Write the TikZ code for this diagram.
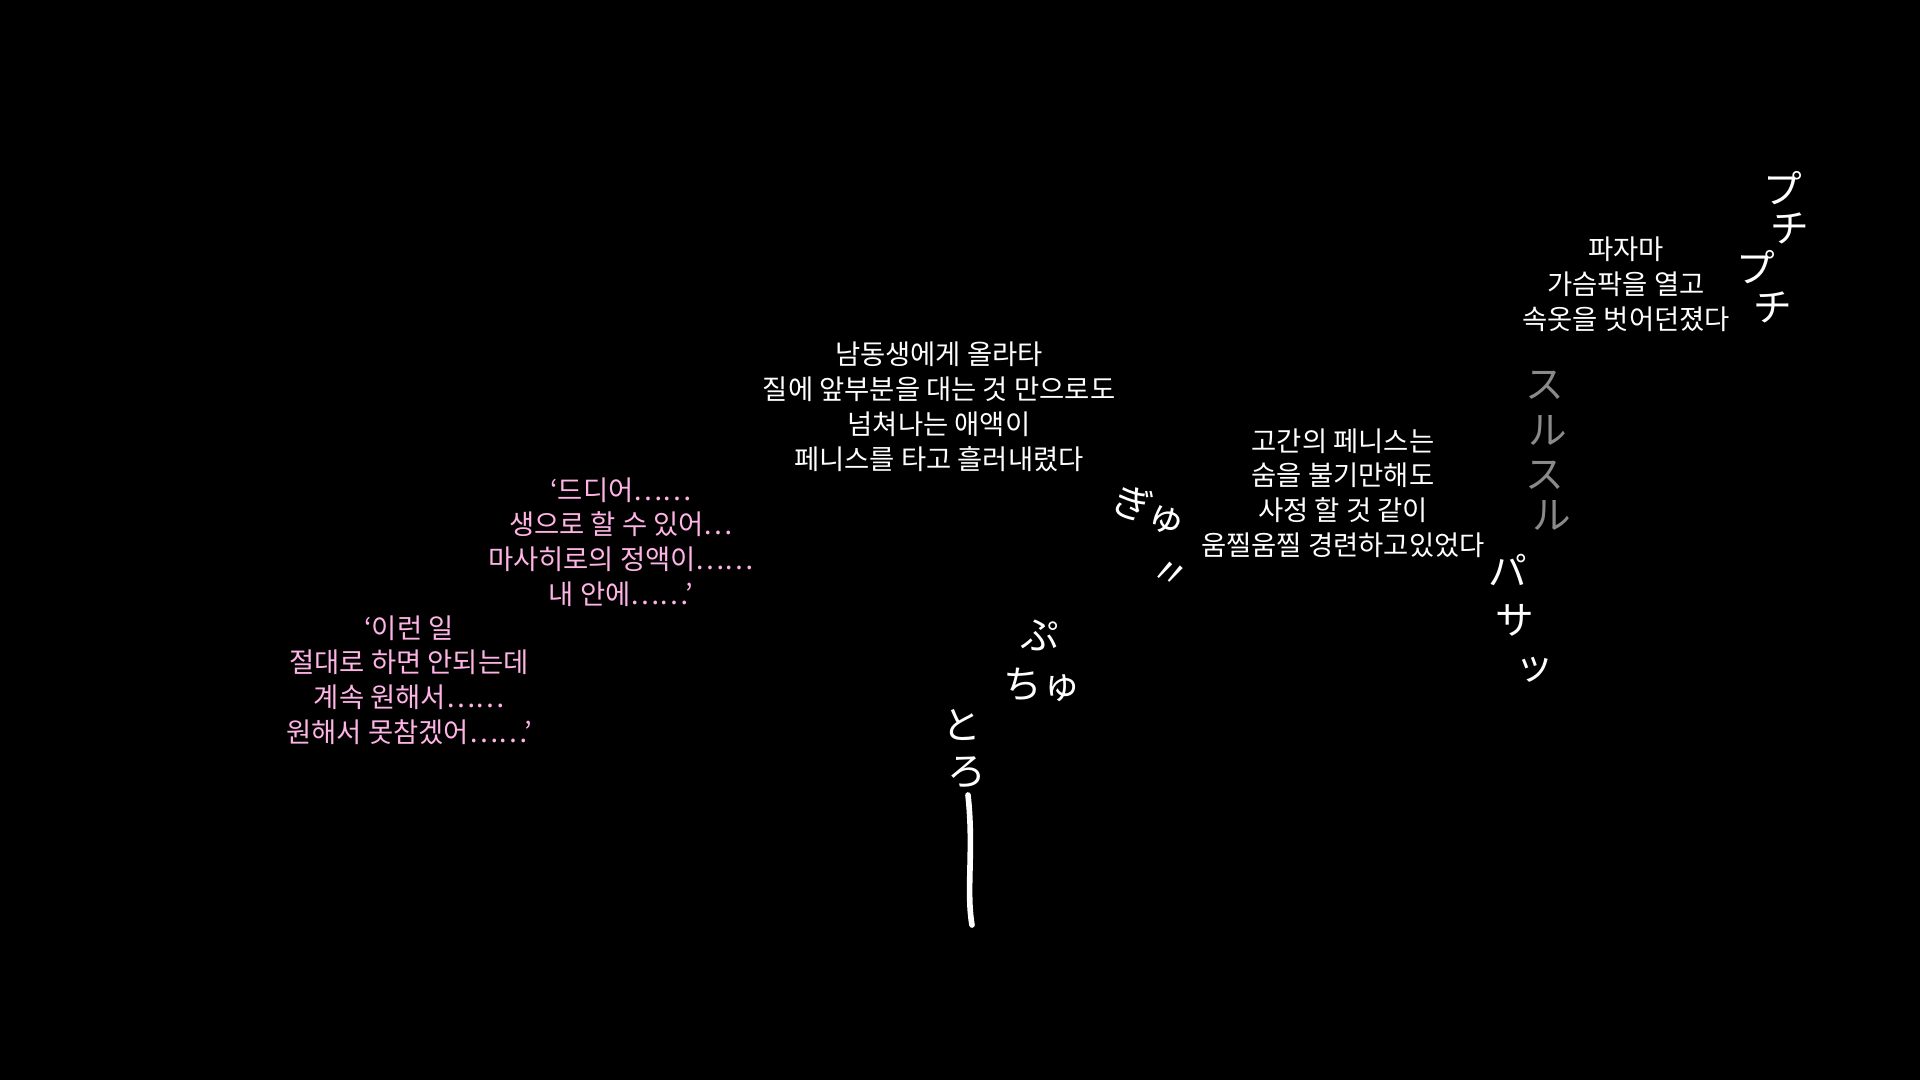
\documentclass[tikz,border=0pt]{standalone}
\usepackage{fontspec}
\newfontfamily\kr{Noto Sans CJK KR}
\newfontfamily\jp{Noto Sans CJK JP}
\definecolor{pinktxt}{HTML}{FFB4E6}
\definecolor{sfxgray}{HTML}{8A8A8A}
\tikzset{
  dlg/.style={align=center,font=\kr\fontsize{7.8}{9.9}\selectfont,inner sep=0pt},
  sfx/.style={font=\jp\fontsize{11}{12}\selectfont,text=white,inner sep=0pt},
}
\begin{document}
\begin{tikzpicture}[x=0.1mm,y=0.1mm]
\fill[black] (0,0) rectangle (1920,1080);
\useasboundingbox (0,0) rectangle (1920,1080);
\node[dlg,text=pinktxt] (b1) at (409,400) {‘이런 일\\절대로 하면 안되는데\\계속 원해서……\\원해서 못참겠어……’};
\node[dlg,text=pinktxt] (b2) at (621,538) {‘드디어……\\생으로 할 수 있어…\\마사히로의 정액이……\\내 안에……’};
\node[dlg,text=white] (b3) at (939,673) {남동생에게 올라타\\질에 앞부분을 대는 것 만으로도\\넘쳐나는 애액이\\페니스를 타고 흘러내렸다};
\node[dlg,text=white] (b4) at (1343,587) {고간의 페니스는\\숨을 불기만해도\\사정 할 것 같이\\움찔움찔 경련하고있었다};
\node[dlg,text=white] (b5) at (1626,796) {파자마\\가슴팍을 열고\\속옷을 벗어던졌다};
% puchi puchi
\node[sfx] (p1) at (1783,892) {プ};
\node[sfx] (p2) at (1790,852) {チ};
\node[sfx] (p3) at (1756,813) {プ};
\node[sfx] (p4) at (1773,773) {チ};
% surusuru
\node[sfx,text=sfxgray] (s1) at (1545,695) {ス};
\node[sfx,text=sfxgray] (s2) at (1548,650) {ル};
\node[sfx,text=sfxgray] (s3) at (1545,605) {ス};
\node[sfx,text=sfxgray] (s4) at (1552,565) {ル};
% pasa
\node[sfx] (q1) at (1508,510) {パ};
\node[sfx] (q2) at (1515,460) {サ};
\node[sfx] (q3) at (1535,410) {ッ};
% puchu
\node[sfx] (c1) at (1040,445) {ぷ};
\node[sfx] (c2) at (1042,395) {ちゅ};
% toro
\node[sfx] (t1) at (962,355) {と};
\node[sfx] (t2) at (967,308) {ろ};
\coordinate (tend) at (972,155);
\draw[white,line width=1.6pt,line cap=round] (968,285) .. controls (974,230) and (966,190) .. (tend);
% gyu
\node[sfx,rotate=-20] (g1) at (1150,570) {ぎゅ};
\node[sfx,rotate=-20] (g2) at (1170,505) {〃};
\end{tikzpicture}
\end{document}
